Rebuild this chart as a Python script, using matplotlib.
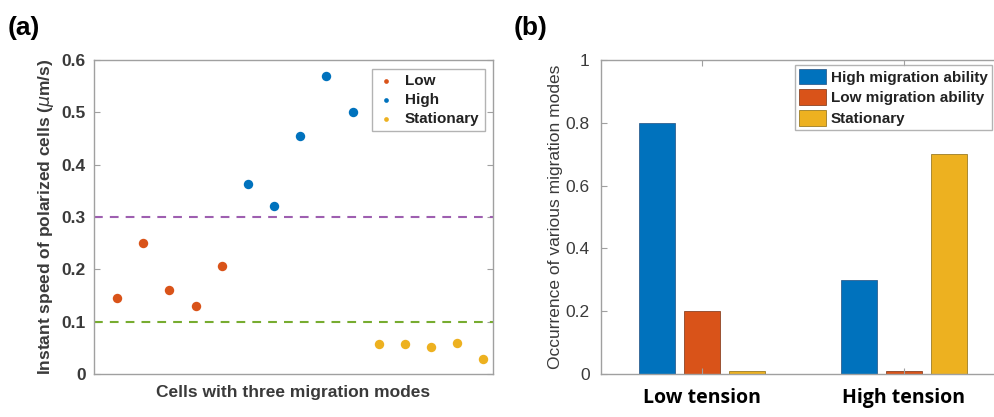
import matplotlib
matplotlib.use("Agg")
import matplotlib.pyplot as plt
import numpy as np

# ---- data ----
low_x = [1, 2, 3, 4, 5]
low_y = [0.146, 0.250, 0.160, 0.130, 0.206]
high_x = [6, 7, 8, 9, 10]
high_y = [0.364, 0.321, 0.455, 0.570, 0.500]
stat_x = [11, 12, 13, 14, 15]
stat_y = [0.058, 0.057, 0.052, 0.059, 0.029]
thresholds = [0.3, 0.1]

groups = ["Low tension", "High tension"]
high_ability = [0.8, 0.3]
low_ability = [0.2, 0.01]
stationary = [0.01, 0.7]

C_BLUE = "#0072BD"
C_ORANGE = "#D95319"
C_YELLOW = "#EDB120"
C_PURPLE = "#9E5FB0"
C_GREEN = "#77AC30"
TXT = "#3a3a3a"
SPINE = "#a0a0a0"

plt.rcParams['font.family'] = ['Liberation Sans', 'DejaVu Sans']

fig = plt.figure(figsize=(9.94, 4.17), dpi=100)

# ---------------- panel (a) ----------------
axa = fig.add_axes([0.0946, 0.103, 0.401, 0.753])
axa.scatter(low_x, low_y, s=46, color=C_ORANGE, label="Low", zorder=3, linewidths=0)
axa.scatter(high_x, high_y, s=46, color=C_BLUE, label="High", zorder=3, linewidths=0)
axa.scatter(stat_x, stat_y, s=46, color=C_YELLOW, label="Stationary", zorder=3, linewidths=0)
axa.axhline(thresholds[0], color=C_PURPLE, ls=(0, (4.2, 3.4)), lw=1.5, zorder=2)
axa.axhline(thresholds[1], color=C_GREEN, ls=(0, (4.2, 3.4)), lw=1.5, zorder=2)
axa.set_xlim(0.12, 15.35)
axa.set_ylim(0, 0.6)
axa.set_xticks([])
axa.set_yticks([0, 0.1, 0.2, 0.3, 0.4, 0.5, 0.6])
axa.set_yticklabels(["0", "0.1", "0.2", "0.3", "0.4", "0.5", "0.6"])
axa.tick_params(axis='y', direction='in', right=True, length=4, color=SPINE,
                labelsize=12.5, labelcolor=TXT, pad=6)
for lab in axa.get_yticklabels():
    lab.set_fontweight('bold')
for s in axa.spines.values():
    s.set_color(SPINE)
    s.set_linewidth(1.0)
axa.set_ylabel(r"Instant speed of polarized cells ($\mu$m/s)", fontsize=12.5,
               fontweight='bold', color=TXT, labelpad=4)
axa.set_xlabel("Cells with three migration modes", fontsize=12.5,
               fontweight='bold', color=TXT, labelpad=8)
lega = axa.legend(loc='upper right', bbox_to_anchor=(0.98, 0.972), markerscale=0.5,
                  prop={'weight': 'bold', 'size': 11}, frameon=True, fancybox=False,
                  handletextpad=0.6, borderpad=0.35, labelspacing=0.32, handlelength=1.2,
                  borderaxespad=0)
lega.get_frame().set_edgecolor(SPINE)
lega.get_frame().set_linewidth(1.0)
for t in lega.get_texts():
    t.set_color("#222222")

# ---------------- panel (b) ----------------
axb = fig.add_axes([0.6046, 0.103, 0.4064, 0.753])
x = np.arange(1, len(groups) + 1)
off = 0.223
w = 0.178
axb.bar(x - off, high_ability, w, color=C_BLUE, edgecolor="#1f4f80", linewidth=0.5,
        label="High migration ability")
axb.bar(x, low_ability, w, color=C_ORANGE, edgecolor="#7a3010", linewidth=0.5,
        label="Low migration ability")
axb.bar(x + off, stationary, w, color=C_YELLOW, edgecolor="#8a6a10", linewidth=0.5,
        label="Stationary")
axb.set_xlim(0.5, 2.5)
axb.set_ylim(0, 1)
axb.set_xticks(x)
axb.set_xticklabels(groups, fontsize=14, fontweight='bold', color='black',
                    family=['Open Sans', 'DejaVu Sans'])
axb.set_yticks([0, 0.2, 0.4, 0.6, 0.8, 1])
axb.set_yticklabels(["0", "0.2", "0.4", "0.6", "0.8", "1"])
axb.tick_params(axis='y', direction='in', right=True, length=4, color=SPINE,
                labelsize=12.5, labelcolor=TXT, pad=8)
axb.tick_params(axis='x', direction='in', top=True, length=4, color=SPINE, pad=10)
for s in axb.spines.values():
    s.set_color(SPINE)
    s.set_linewidth(1.0)
axb.set_ylabel("Occurrence of various migration modes", fontsize=12.5, color=TXT,
               labelpad=2)
legb = axb.legend(loc='upper right', bbox_to_anchor=(0.967, 0.985),
                  prop={'weight': 'bold', 'size': 11}, frameon=True, fancybox=False,
                  handletextpad=0.3, borderpad=0.25, labelspacing=0.32,
                  handlelength=1.8, handleheight=1.2, borderaxespad=0)
legb.get_frame().set_edgecolor(SPINE)
legb.get_frame().set_linewidth(1.0)
for t in legb.get_texts():
    t.set_color("#222222")

# panel labels
fig.text(0.008, 0.915, "(a)", fontsize=19, fontweight='bold', color='black',
         family=['Liberation Sans', 'DejaVu Sans'])
fig.text(0.517, 0.915, "(b)", fontsize=19, fontweight='bold', color='black',
         family=['Liberation Sans', 'DejaVu Sans'])

fig.savefig("out.png", dpi=100)
